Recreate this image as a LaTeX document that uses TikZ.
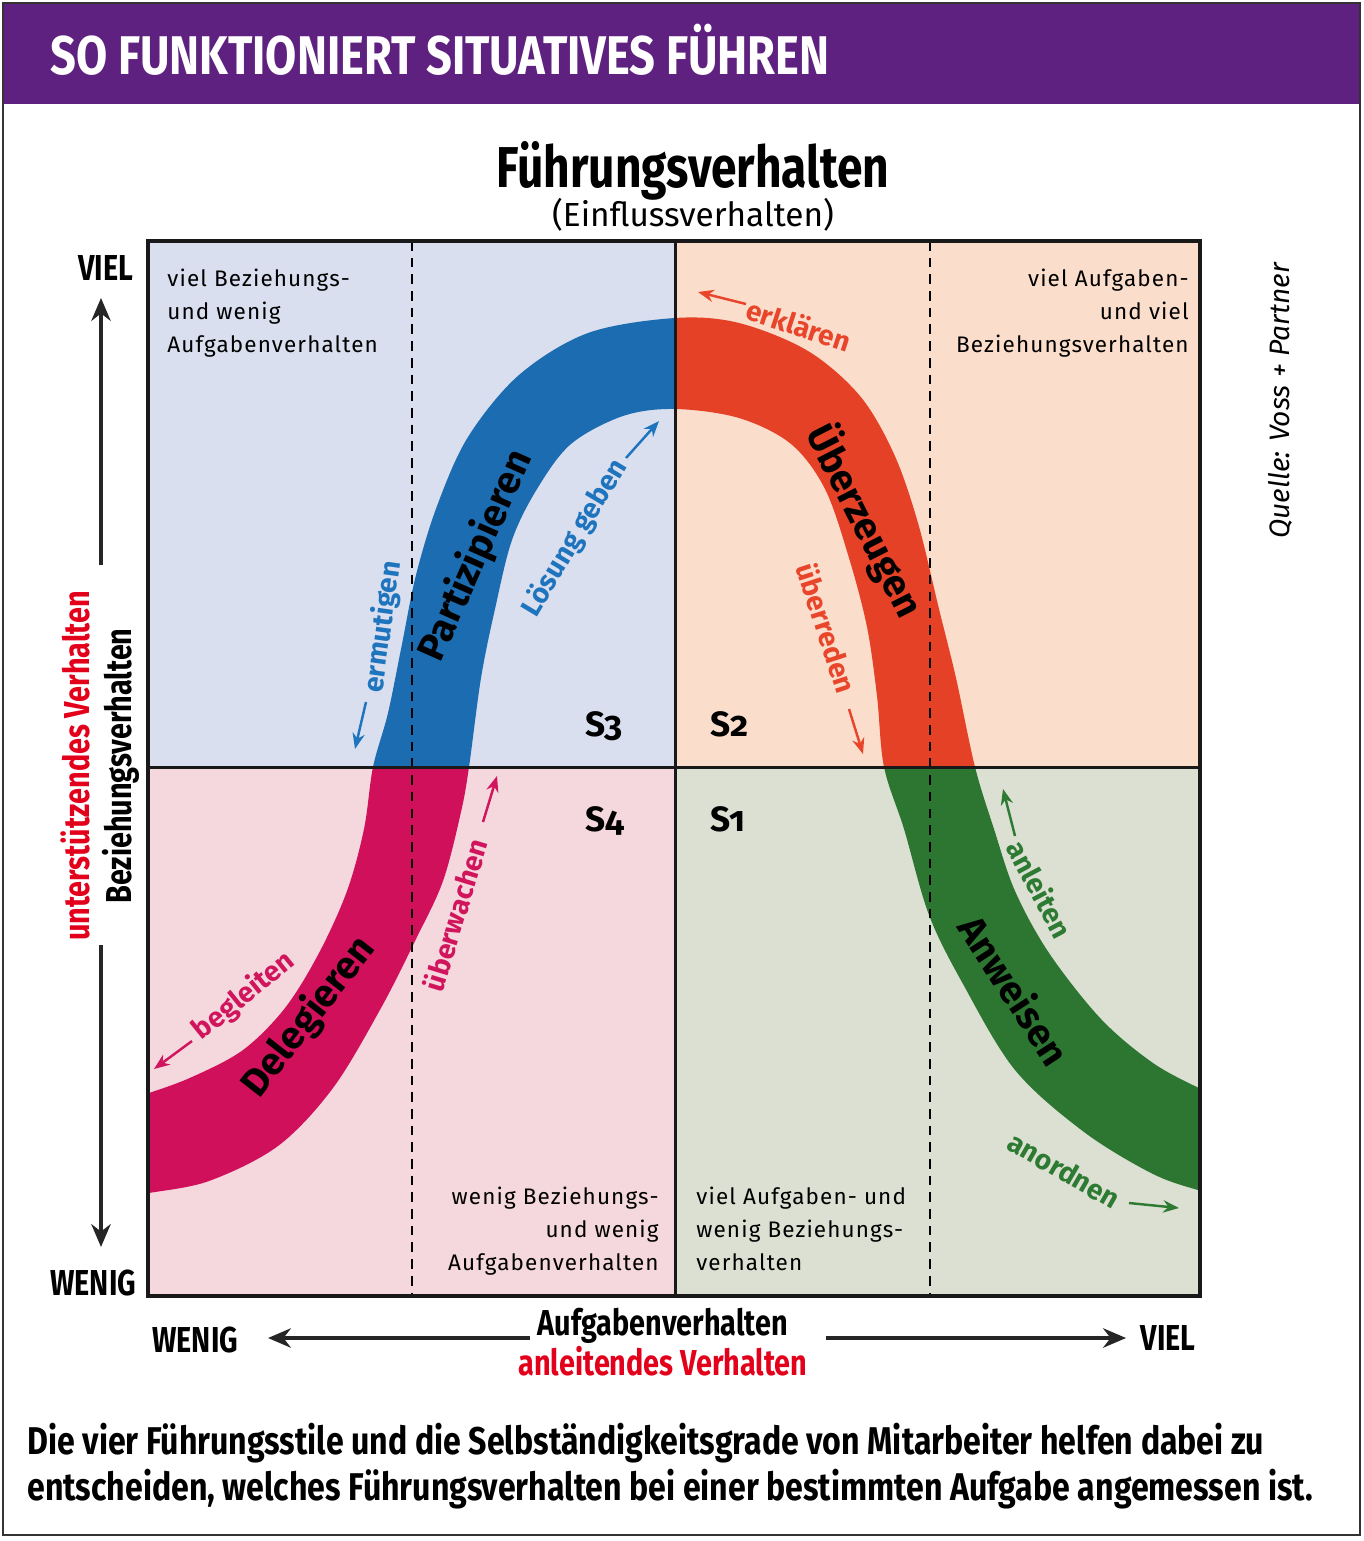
\documentclass[tikz,border=0pt]{standalone}
\usepackage{fontspec}
\setmainfont{Fira Sans}
\newfontfamily\narrowfont[FakeStretch=0.8]{Fira Sans}
\newfontfamily\titlefont[FakeStretch=0.83]{Fira Sans}
\newfontfamily\spacedfont[LetterSpace=5]{Fira Sans}
\newfontfamily\oldnumfont[Numbers=OldStyle]{Fira Sans}
\usetikzlibrary{positioning, calc, arrows.meta}

\definecolor{headpurple}{HTML}{5F2180}
\definecolor{bgblue}{HTML}{D9DFEF}
\definecolor{bgpeach}{HTML}{FBDDCC}
\definecolor{bgpink}{HTML}{F5D8DD}
\definecolor{bggreen}{HTML}{DCE0D2}
\definecolor{bandblue}{HTML}{1B6CB0}
\definecolor{bandred}{HTML}{E44126}
\definecolor{bandmag}{HTML}{D0105A}
\definecolor{bandgreen}{HTML}{2C7631}
\definecolor{hintblue}{HTML}{1F74BE}
\definecolor{hintred}{HTML}{E8452A}
\definecolor{hintmag}{HTML}{D1155D}
\definecolor{hintgreen}{HTML}{2D7A33}
\definecolor{axisred}{HTML}{E3001B}

\tikzset{
    x=0.02cm, y=-0.02cm, % one unit is one pixel of the original, y runs down
    quadtext/.style={font=\spacedfont\fontsize{12.8}{18.7}\selectfont, inner sep=0pt}, % the four corner texts
    bandname/.style={font=\bfseries\fontsize{22}{22}\selectfont, inner sep=0pt}, % names written on the band
    hint/.style={font=\bfseries\fontsize{16}{16}\selectfont, inner sep=0pt}, % small coloured verbs
    hintarrow/.style={-{Stealth[length=9pt, width=7pt]}, line width=1.4pt},
    axisarrow/.style={-{Stealth[length=13pt, width=11pt]}, line width=2.2pt, draw=black!85},
    axislabel/.style={font=\narrowfont\bfseries\fontsize{20.5}{20.5}\selectfont, inner sep=0pt},
    stylelabel/.style={font=\oldnumfont\bfseries\fontsize{20}{20}\selectfont, inner sep=0pt, anchor=base west},
    dashline/.style={dashed, dash pattern=on 5.5pt off 4pt, line width=1.1pt},
}

% the S-shaped band: upper edge left to right, lower edge back
\newcommand{\bandshape}{
    plot[smooth, tension=0.55] coordinates {(130,1098) (149,1093) (192,1077) (243,1050) (285,1008) (319,953) (347,891) (364,829) (373,767) (388,713) (402,644) (416,575) (437,506) (468,437) (519,375) (588,333) (675,318) (739,323) (808,351) (860,396) (894,454) (918,523) (939,609) (956,678) (975,767) (994,829) (1015,891) (1049,953) (1101,1019) (1153,1063) (1201,1089) (1220,1096)}
    -- plot[smooth, tension=0.55] coordinates {(1220,1196) (1201,1191) (1153,1174) (1084,1132) (1015,1070) (963,984) (929,915) (904,829) (884,767) (877,696) (867,627) (849,558) (825,489) (791,444) (739,418) (675,409) (623,416) (571,444) (537,489) (512,540) (495,609) (481,678) (469,767) (461,812) (443,881) (416,939) (381,1008) (333,1088) (278,1146) (209,1181) (149,1193) (130,1196)}
    -- cycle}

\begin{document}
\begin{tikzpicture}
\useasboundingbox (0,0) rectangle (1363,1541);
\fill[headpurple] (3,3) rectangle (1360,104);
\draw[line width=1.2pt, black!80] (3,3) rectangle (1360,1535);
\node[anchor=base west, text=white, font=\titlefont\bfseries\fontsize{31}{31}\selectfont, inner sep=0pt] (title) at (50,75) {SO FUNKTIONIERT SITUATIVES FÜHREN};
\node[anchor=base, font=\narrowfont\bfseries\fontsize{32.8}{32.8}\selectfont, inner sep=0pt] (fuehrung) at (693,187) {Führungsverhalten};
\node[anchor=base, font=\fontsize{19}{19}\selectfont, inner sep=0pt] (einfluss) at (693,226) {(Einflussverhalten)};

% quadrants with the band clipped into each of them
\foreach \qa/\qb/\qc/\qd/\qbg/\qband in {148/241/675/767/bgblue/bandblue, 675/241/1200/767/bgpeach/bandred, 148/767/675/1296/bgpink/bandmag, 675/767/1200/1296/bggreen/bandgreen}{
    \fill[\qbg] (\qa,\qb) rectangle (\qc,\qd);
    \begin{scope}
        \clip (\qa,\qb) rectangle (\qc,\qd);
        \fill[\qband] \bandshape;
    \end{scope}
}
\draw[dashline] (412,241) -- (412,1296);
\draw[dashline] (930,241) -- (930,1296);
\draw[line width=1.7pt, black!90] (675,241) -- (675,1296) (148,767) -- (1200,767);
\draw[line width=2.3pt, black!90] (148,241) rectangle (1200,1296);

% corner texts (base is the last line)
\node[quadtext, anchor=base west, align=left] (tl) at (167,352) {viel Beziehungs-\\und wenig\\Aufgabenverhalten};
\node[quadtext, anchor=base east, align=right] (tr) at (1189,352) {viel Aufgaben-\\und viel\\Beziehungsverhalten};
\node[quadtext, anchor=base east, align=right] (bl) at (659,1270) {wenig Beziehungs-\\und wenig\\Aufgabenverhalten};
\node[quadtext, anchor=base west, align=left] (br) at (696,1270) {viel Aufgaben- und\\wenig Beziehungs-\\verhalten};
\node[stylelabel] (s3) at (585,736) {S3};
\node[stylelabel] (s2) at (710,736) {S2};
\node[stylelabel] (s4) at (585,831) {S4};
\node[stylelabel] (s1) at (710,831) {S1};

% names on the band
\node[bandname, rotate=66] (partiz) at (476,556) {Partizipieren};
\node[bandname, rotate=-63] (ueberz) at (865,521) {Überzeugen};
\node[bandname, rotate=52] (deleg) at (309,1017) {Delegieren};
\node[bandname, rotate=-57] (anweis) at (1015,990) {Anweisen};

% verbs with their arrows
\node[hint, text=hintblue, rotate=82] (ermut) at (383,627) {ermutigen};
\node[hint, text=hintblue, rotate=59] (loesung) at (575,538) {Lösung geben};
\node[hint, text=hintred, rotate=-18] (erklaer) at (799,325) {erklären};
\node[hint, text=hintred, rotate=-72] (ueberred) at (827,628) {überreden};
\node[hint, text=hintmag, rotate=73] (ueberw) at (455,915) {überwachen};
\node[hint, text=hintmag, rotate=39] (begl) at (244,996) {begleiten};
\node[hint, text=hintgreen, rotate=-62] (anleit) at (1040,889) {anleiten};
\node[hint, text=hintgreen, rotate=-30] (anord) at (1064,1170) {anordnen};
\foreach \n/\xa/\ya/\xb/\yb/\c in {erm/366/702/355/749/hintblue, loe/626/458/659/421/hintblue, erk/746/304/698/292/hintred, ubr/849/709/863/754/hintred, ubw/483/822/497/776/hintmag, beg/192/1041/154/1069/hintmag, anl/1015/836/1003/789/hintgreen, ano/1129/1203/1179/1208/hintgreen}{
    \coordinate (\n-from) at (\xa,\ya);
    \coordinate (\n-to) at (\xb,\yb);
    \draw[hintarrow, \c] (\n-from) -- (\n-to);
}

% vertical axis
\node[axislabel, anchor=base west] (yviel) at (78,280) {VIEL};
\node[axislabel, anchor=base west] (ywenig) at (50,1295) {WENIG};
\node[axislabel, rotate=90, anchor=base] (bez) at (131,766) {Beziehungsverhalten};
\node[axislabel, rotate=90, anchor=base, text=axisred] (unterst) at (89,766) {unterstützendes Verhalten};
\coordinate (ytop) at (101,298);
\coordinate (ygap1) at (101,565);
\coordinate (ygap2) at (101,945);
\coordinate (ybot) at (101,1247);
\draw[axisarrow] (ygap1) -- (ytop);
\draw[axisarrow] (ygap2) -- (ybot);

% horizontal axis
\node[axislabel, anchor=base west] (xwenig) at (152,1352) {WENIG};
\node[axislabel, anchor=base east] (xviel) at (1196,1350) {VIEL};
\node[axislabel, anchor=base] (aufg) at (663,1335) {Aufgabenverhalten};
\node[axislabel, anchor=base, text=axisred] (anleitend) at (663,1375) {anleitendes Verhalten};
\coordinate (xleft) at (268,1338);
\coordinate (xgap1) at (530,1338);
\coordinate (xgap2) at (826,1338);
\coordinate (xright) at (1126,1338);
\draw[axisarrow] (xgap1) -- (xleft);
\draw[axisarrow] (xgap2) -- (xright);

\node[rotate=90, anchor=base, font=\itshape\fontsize{16}{16}\selectfont, inner sep=0pt] (quelle) at (1289,401) {Quelle: Voss + Partner};
\node[anchor=base west, align=left, font=\titlefont\bfseries\fontsize{22}{26}\selectfont, inner sep=0pt] (caption) at (27,1500) {Die vier Führungsstile und die Selbständigkeitsgrade von Mitarbeiter helfen dabei zu\\entscheiden, welches Führungsverhalten bei einer bestimmten Aufgabe angemessen ist.};
\end{tikzpicture}
\end{document}
